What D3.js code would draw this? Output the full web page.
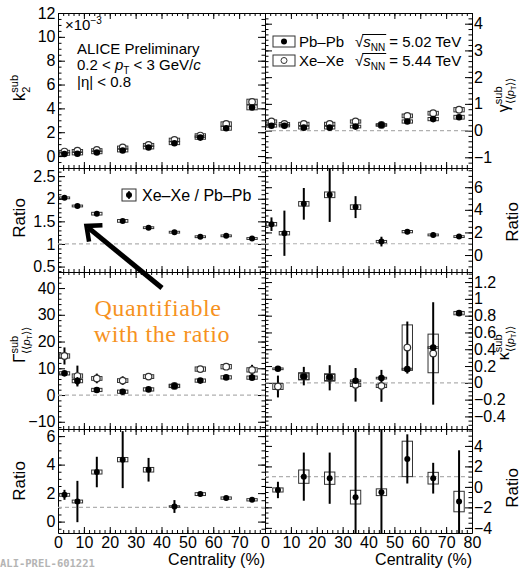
<!DOCTYPE html>
<html lang="en">
<head>
<meta charset="utf-8">
<title>ALICE Preliminary - Xe-Xe vs Pb-Pb</title>
<script src="https://cdn.jsdelivr.net/npm/d3@7"></script>
<style>
  body { margin: 0; background: #fff; }
  text { font-family: "Liberation Sans", Arial, Helvetica, sans-serif; }
  text.serif { font-family: "Liberation Serif", "DejaVu Serif", serif; }
  text.mono { font-family: "DejaVu Sans Mono", "Liberation Mono", monospace; }
</style>
</head>
<body>
<div id="chart"></div>
<script>
// centrality bin centres (%)
const cent9 = [2.5, 7.5, 15, 25, 35, 45, 55, 65, 75];
const cent8 = [5, 15, 25, 35, 45, 55, 65, 75];

// k2 sub (x 10^-3)
const k2PbPb = [0.17, 0.20, 0.30, 0.47, 0.72, 1.08, 1.55, 2.33, 4.08];
const k2PbPbStat = [0.03, 0.03, 0.03, 0.03, 0.03, 0.04, 0.05, 0.06, 0.08];
const k2PbPbSyst = [0.10, 0.10, 0.10, 0.12, 0.12, 0.12, 0.14, 0.16, 0.20];
const k2XeXe = [0.38, 0.45, 0.52, 0.72, 0.94, 1.36, 1.72, 2.69, 4.55];
const k2XeXeStat = [0.05, 0.05, 0.05, 0.05, 0.06, 0.06, 0.07, 0.08, 0.10];
const k2XeXeSyst = [0.10, 0.10, 0.10, 0.12, 0.12, 0.14, 0.15, 0.18, 0.22];
const k2Ratio = [2.02, 1.84, 1.67, 1.51, 1.36, 1.26, 1.16, 1.18, 1.12];
const k2RatioStat = [0.03, 0.03, 0.03, 0.03, 0.03, 0.03, 0.03, 0.03, 0.04];
const k2RatioSyst = [0.02, 0.02, 0.03, 0.03, 0.02, 0.02, 0.02, 0.02, 0.02];

// gamma sub <<pT>>
const gamPbPb = [0.18, 0.18, 0.11, 0.11, 0.15, 0.21, 0.34, 0.43, 0.50];
const gamPbPbStat = [0.03, 0.03, 0.03, 0.03, 0.03, 0.03, 0.04, 0.04, 0.05];
const gamPbPbSyst = [0.05, 0.04, 0.05, 0.05, 0.05, 0.04, 0.06, 0.06, 0.07];
const gamXeXe = [0.34, 0.25, 0.25, 0.25, 0.34, 0.21, 0.55, 0.65, 0.78];
const gamXeXeStat = [0.05, 0.06, 0.05, 0.05, 0.06, 0.04, 0.08, 0.08, 0.10];
const gamXeXeSyst = [0.06, 0.05, 0.06, 0.06, 0.06, 0.04, 0.07, 0.07, 0.08];
const gamRatio = [2.73, 1.93, 4.53, 5.33, 4.24, 1.19, 2.07, 1.78, 1.63];
const gamRatioStat = [0.60, 2.00, 1.40, 2.40, 0.97, 0.43, 0.22, 0.20, 0.20];
const gamRatioSyst = [0.15, 0.15, 0.20, 0.25, 0.20, 0.10, 0.10, 0.08, 0.08];

// Gamma sub <<pT>>
const GamPbPb = [8.1, 5.2, 1.9, 1.25, 2.1, 3.4, 5.4, 6.6, 6.5];
const GamPbPbStat = [0.5, 1.5, 0.4, 0.4, 0.4, 0.4, 0.4, 0.4, 0.6];
const GamPbPbSyst = [0.6, 0.6, 0.6, 0.6, 0.6, 0.6, 0.6, 0.6, 0.6];
const GamXeXe = [14.6, 7.1, 6.2, 5.4, 6.9, 3.4, 9.7, 10.6, 9.4];
const GamXeXeStat = [3.2, 3.9, 1.8, 1.6, 1.2, 0.6, 1.0, 1.0, 1.9];
const GamXeXeSyst = [0.8, 0.8, 0.7, 0.7, 0.7, 0.6, 0.8, 0.8, 0.8];
const GamRatio = [1.88, 1.41, 3.48, 4.35, 3.64, 1.06, 1.93, 1.65, 1.53];
const GamRatioStat = [0.35, 1.45, 1.07, 2.00, 0.83, 0.45, 0.15, 0.15, 0.15];
const GamRatioSyst = [0.10, 0.10, 0.14, 0.15, 0.16, 0.05, 0.10, 0.08, 0.08];

// kappa sub <<pT>>
const kapPbPb = [0.167, 0.075, 0.068, 0.024, 0.056, 0.163, 0.42, 0.83];
const kapPbPbStat = [0.01, 0.02, 0.02, 0.02, 0.02, 0.03, 0.02, 0.03];
const kapPbPbSyst = [0.01, 0.04, 0.04, 0.01, 0.01, 0.01, 0.01, 0.02];
const kapXeXe = [-0.044, 0.08, 0.06, -0.024, -0.036, 0.42, 0.35, null];
const kapXeXeStat = [0.13, 0.11, 0.15, 0.20, 0.19, 0.31, 0.61, null];
const kapXeXeSyst = [0.035, 0.04, 0.04, 0.02, 0.02, 0.27, 0.23, null];
const kapRatio = [-0.3, 1.0, 0.85, -1.0, -0.52, 2.73, 0.85, -1.43];
const kapRatioStat = [0.8, 2.35, 2.5, 8, 8, 2.4, 1.5, 5];
const kapRatioSyst = [0.2, 0.65, 0.6, 0.67, 0.33, 1.73, 0.57, 1.0];

const systems = ["Pb–Pb", "Xe–Xe"];
const energies = ["5.02", "5.44"];

const W = 523, H = 569;
const colX = [[58, 265], [265, 472]];
const rowY = [[13, 168], [168, 272], [272, 429], [429, 533]];

const svg = d3.select("#chart").append("svg")
    .attr("width", W).attr("height", H)
    .style("display", "block");
const defs = svg.append("defs");

function steps(lo, hi, step) {
    const a = Math.ceil(lo / step - 1e-9), b = Math.floor(hi / step + 1e-9);
    return d3.range(a, b + 1).map(k => +(k * step).toFixed(6));
}

const fmt = d3.format("~g");

function addAxis(g, make, tr, major, minor, majLen, minLen, labels, pad) {
    g.append("g").attr("transform", tr)
        .call(make().tickValues(minor).tickSize(-minLen).tickSizeOuter(0).tickFormat(""))
        .call(a => a.select(".domain").remove());
    const ax = g.append("g").attr("transform", tr)
        .call(make().tickValues(major).tickSize(-majLen).tickSizeOuter(0)
            .tickPadding(pad).tickFormat(labels ? labels : () => ""));
    ax.attr("font-size", 16).attr("font-family", null).attr("color", "#000");
    ax.selectAll("line, path").attr("stroke-width", 1);
}

function makePanel(col, row, yDomain, yMajor, yMinor) {
    const [xl, xr] = colX[col], [yt, yb] = rowY[row];
    const x = d3.scaleLinear().domain([0, 80]).range([xl, xr]);
    const y = d3.scaleLinear().domain(yDomain).range([yb, yt]);
    const g = svg.append("g");
    const clipId = `clip-${col}-${row}`;
    defs.append("clipPath").attr("id", clipId).append("rect")
        .attr("x", xl).attr("y", yt).attr("width", xr - xl).attr("height", yb - yt);

    const xMaj = steps(0, 80, 10), xMin = steps(0, 80, 2);
    const yMaj = steps(yDomain[0], yDomain[1], yMajor), yMin = steps(yDomain[0], yDomain[1], yMinor);
    const xLab = row === 3 ? (v => (col === 0 && v === 80 ? "" : fmt(v))) : null;

    addAxis(g, () => d3.axisBottom(x), `translate(0,${yb})`, xMaj, xMin, 6, 3, xLab, 3.5);
    addAxis(g, () => d3.axisTop(x), `translate(0,${yt})`, xMaj, xMin, 6, 3, null, 3);
    addAxis(g, () => d3.axisLeft(y), `translate(${xl},0)`, yMaj, yMin, 7, 3.5, col === 0 ? fmt : null, 2.5);
    addAxis(g, () => d3.axisRight(y), `translate(${xr},0)`, yMaj, yMin, 7, 3.5, col === 1 ? fmt : null, 2);

    const plot = g.append("g").attr("clip-path", `url(#${clipId})`);
    return { x, y, g, plot };
}

function refLine(p, v) {
    p.plot.append("line")
        .attr("x1", p.x(0)).attr("x2", p.x(80))
        .attr("y1", p.y(v)).attr("y2", p.y(v))
        .attr("stroke", "#b0b0b0").attr("stroke-width", 1.2)
        .attr("stroke-dasharray", "4,3");
}

function drawSeries(p, xs, vals, stat, syst, kind) {
    const data = xs.map((c, i) => ({ c, v: vals[i], e: stat[i], s: syst[i] }))
        .filter(d => d.v !== null);
    const hw = 2;
    const layer = p.plot.append("g");
    layer.selectAll("rect").data(data).join("rect")
        .attr("x", d => p.x(d.c - hw))
        .attr("width", d => p.x(d.c + hw) - p.x(d.c - hw))
        .attr("y", d => p.y(d.v + d.s))
        .attr("height", d => Math.max(p.y(d.v - d.s) - p.y(d.v + d.s), 1))
        .attr("fill", "none").attr("stroke", "#333").attr("stroke-width", 1);
    layer.selectAll("line").data(data).join("line")
        .attr("x1", d => p.x(d.c)).attr("x2", d => p.x(d.c))
        .attr("y1", d => p.y(d.v - d.e)).attr("y2", d => p.y(d.v + d.e))
        .attr("stroke", "#000").attr("stroke-width", 2);
    layer.selectAll("circle").data(data).join("circle")
        .attr("cx", d => p.x(d.c)).attr("cy", d => p.y(d.v))
        .attr("r", kind === "ratio" ? 3 : 3.3)
        .attr("fill", kind === "open" ? "#fff" : "#000")
        .attr("stroke", kind === "open" ? "#333" : "none")
        .attr("stroke-width", 1.2);
}

function yTitle(x, y, main, sup, sub, size) {
    const ss = Math.round(size * 0.66);
    const t = svg.append("text")
        .attr("transform", `translate(${x},${y}) rotate(-90)`)
        .attr("text-anchor", "middle").attr("font-size", size);
    t.append("tspan").text(main);
    let subLen = 0, back = 0;
    if (sub) {
        const start = main.length;
        let first = true, count = 0;
        sub.forEach(s => {
            const ts = t.append("tspan").attr("font-size", s.fs || ss).text(s.t);
            if (s.it) ts.attr("font-style", "italic");
            const dy = (s.dy || 0) + (first ? size * 0.3 : 0);
            if (dy) ts.attr("dy", dy);
            first = false;
            count += s.t.length;
        });
        subLen = t.node().getSubStringLength(start, count);
        back = sub.reduce((a, s) => a + (s.dy || 0), 0) + size * 0.3;
    }
    if (sup) {
        t.append("tspan").attr("font-size", ss)
            .attr("dx", -subLen)
            .attr("dy", -back - size * 0.42)
            .text(sup);
    }
    return t;
}

// ---- panels
const pK2 = makePanel(0, 0, [-1, 12], 2, 0.5);
const pGam = makePanel(1, 0, [-1.4, 4.4], 1, 0.2);
const pR1 = makePanel(0, 1, [0.38, 2.68], 0.5, 0.1);
const pR2 = makePanel(1, 1, [-1.5, 7.7], 2, 0.5);
const pG = makePanel(0, 2, [-12.7, 46], 10, 2);
const pKap = makePanel(1, 2, [-0.55, 1.32], 0.2, 0.05);
const pR3 = makePanel(0, 3, [-0.8, 6.5], 2, 0.5);
const pR4 = makePanel(1, 3, [-4.5, 5.65], 2, 0.5);

refLine(pGam, 0);
refLine(pR1, 1);
refLine(pR2, 1);
refLine(pG, 0);
refLine(pKap, 0);
refLine(pR3, 1);
refLine(pR4, 1);

drawSeries(pK2, cent9, k2XeXe, k2XeXeStat, k2XeXeSyst, "open");
drawSeries(pK2, cent9, k2PbPb, k2PbPbStat, k2PbPbSyst, "filled");
drawSeries(pGam, cent9, gamXeXe, gamXeXeStat, gamXeXeSyst, "open");
drawSeries(pGam, cent9, gamPbPb, gamPbPbStat, gamPbPbSyst, "filled");
drawSeries(pR1, cent9, k2Ratio, k2RatioStat, k2RatioSyst, "ratio");
drawSeries(pR2, cent9, gamRatio, gamRatioStat, gamRatioSyst, "ratio");
drawSeries(pG, cent9, GamXeXe, GamXeXeStat, GamXeXeSyst, "open");
drawSeries(pG, cent9, GamPbPb, GamPbPbStat, GamPbPbSyst, "filled");
drawSeries(pKap, cent8, kapXeXe, kapXeXeStat, kapXeXeSyst, "open");
drawSeries(pKap, cent8, kapPbPb, kapPbPbStat, kapPbPbSyst, "filled");
drawSeries(pR3, cent9, GamRatio, GamRatioStat, GamRatioSyst, "ratio");
drawSeries(pR4, cent8, kapRatio, kapRatioStat, kapRatioSyst, "ratio");

// ---- x axis titles
[0, 1].forEach(c => {
    svg.append("text").attr("x", colX[c][1]).attr("y", 565)
        .attr("text-anchor", "end").attr("font-size", 16)
        .text("Centrality (%)");
});

// ---- y axis titles
const ptSub = [{ t: "⟨⟨" }, { t: "p", it: true }, { t: "T", fs: 7, dy: 2 }, { t: "⟩⟩", dy: -2 }];
yTitle(25, 88, "k", "sub", [{ t: "2" }], 17);
yTitle(25, 218, "Ratio", null, null, 17);
yTitle(25, 345, "Γ", "sub", ptSub, 17);
yTitle(25, 481, "Ratio", null, null, 17);
yTitle(509, 95, "γ", "sub", ptSub, 16);
yTitle(518, 222, "Ratio", null, null, 17);
yTitle(509, 343, "κ", "sub", ptSub, 16);
yTitle(518, 488, "Ratio", null, null, 17);

// ---- top-left labels
const tl = svg.append("text").attr("x", 65).attr("y", 30).attr("font-size", 15);
tl.append("tspan").text("×10");
tl.append("tspan").attr("font-size", 10).attr("dy", -6).text("−3");
svg.append("text").attr("x", 77).attr("y", 54).attr("font-size", 15).text("ALICE Preliminary");
const ptl = svg.append("text").attr("x", 77).attr("y", 70).attr("font-size", 15);
ptl.append("tspan").text("0.2 <  ");
ptl.append("tspan").attr("font-style", "italic").text("p");
ptl.append("tspan").attr("font-size", 10).attr("dy", 4).text("T");
ptl.append("tspan").attr("dy", -4).text(" < 3 GeV/");
ptl.append("tspan").attr("font-style", "italic").text("c");
svg.append("text").attr("x", 77).attr("y", 87).attr("font-size", 15).text("|η| < 0.8");

// ---- legend (top right)
systems.forEach((s, i) => {
    const cy = 41.5 + i * 19;
    svg.append("rect").attr("x", 273).attr("y", cy - 5.5).attr("width", 22).attr("height", 11)
        .attr("fill", "none").attr("stroke", "#333").attr("stroke-width", 1);
    svg.append("circle").attr("cx", 284).attr("cy", cy).attr("r", 3)
        .attr("fill", i === 0 ? "#000" : "#fff").attr("stroke", i === 0 ? "none" : "#333");
    svg.append("text").attr("x", 299).attr("y", cy + 5.5).attr("font-size", 15).text(s);
    const bx = 355, by = cy + 5.5;
    const t = svg.append("text").attr("x", bx).attr("y", by).attr("font-size", 15);
    t.append("tspan").text("√");
    t.append("tspan").attr("font-style", "italic").text("s");
    t.append("tspan").attr("font-size", 10).attr("dy", 4).text("NN");
    t.append("tspan").attr("dy", -4).text(` = ${energies[i]} TeV`);
    const n = t.node();
    const a = n.getSubStringLength(0, 1), b = n.getSubStringLength(0, 4);
    svg.append("line").attr("x1", bx + a - 1).attr("x2", bx + b + 1)
        .attr("y1", by - 12.5).attr("y2", by - 12.5)
        .attr("stroke", "#000").attr("stroke-width", 1);
});

// ---- ratio legend
svg.append("rect").attr("x", 122).attr("y", 189).attr("width", 14).attr("height", 12)
    .attr("fill", "none").attr("stroke", "#333");
svg.append("circle").attr("cx", 129).attr("cy", 195).attr("r", 3).attr("fill", "#000");
svg.append("line").attr("x1", 129).attr("x2", 129).attr("y1", 191).attr("y2", 199)
    .attr("stroke", "#000").attr("stroke-width", 1.5);
svg.append("text").attr("x", 142).attr("y", 200.5).attr("font-size", 16).text("Xe–Xe / Pb–Pb");

// ---- arrow annotation
const tip = [pR1.x(11), pR1.y(1.4)];
const tail = [162, 288];
svg.append("line").attr("x1", tail[0]).attr("y1", tail[1]).attr("x2", tip[0] + 2).attr("y2", tip[1] + 2)
    .attr("stroke", "#000").attr("stroke-width", 5);
const ang = Math.atan2(tail[1] - tip[1], tail[0] - tip[0]);
const arm = 16, spread = 0.72;
const headPts = [
    [tip[0] + arm * Math.cos(ang - spread), tip[1] + arm * Math.sin(ang - spread)],
    tip,
    [tip[0] + arm * Math.cos(ang + spread), tip[1] + arm * Math.sin(ang + spread)]
];
svg.append("path").attr("d", d3.line()(headPts))
    .attr("fill", "none").attr("stroke", "#000").attr("stroke-width", 4.5)
    .attr("stroke-linejoin", "miter").attr("stroke-linecap", "butt");

[["Quantifiable", 158, 316], ["with the ratio", 162, 342]].forEach(([s, x, y]) => {
    svg.append("text").attr("class", "serif")
        .attr("x", x).attr("y", y)
        .attr("fill", "#f6921e").attr("font-size", 24)
        .attr("text-anchor", "middle").attr("letter-spacing", 0.6)
        .text(s);
});

// ---- preliminary tag
svg.append("text").attr("class", "mono").attr("x", 0).attr("y", 567)
    .attr("font-weight", "bold")
    .attr("font-size", 10.5).attr("fill", "#b4b4b4")
    .text("ALI-PREL-601221");
</script>
</body>
</html>
